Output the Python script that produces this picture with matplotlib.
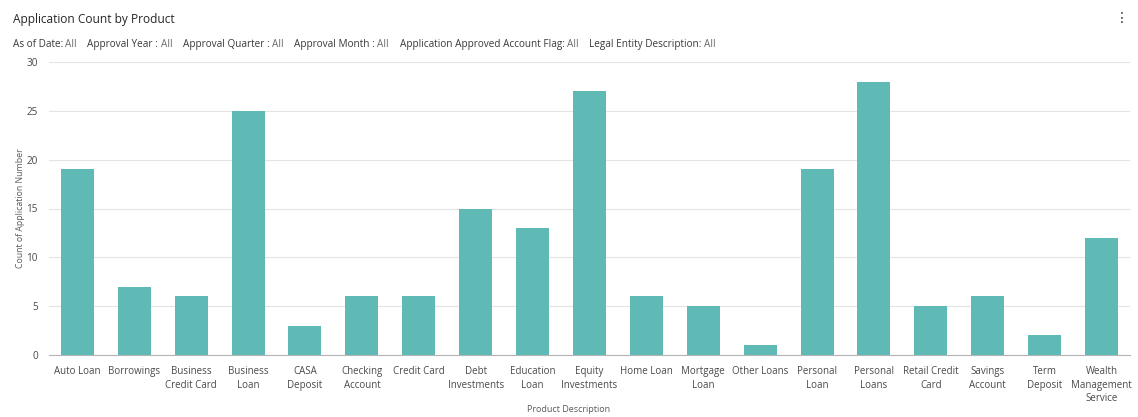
import matplotlib.pyplot as plt

plt.rcParams["font.family"] = ["Open Sans", "DejaVu Sans"]

products = [
    "Auto Loan", "Borrowings", "Business\nCredit Card", "Business\nLoan",
    "CASA\nDeposit", "Checking\nAccount", "Credit Card", "Debt\nInvestments",
    "Education\nLoan", "Equity\nInvestments", "Home Loan", "Mortgage\nLoan",
    "Other Loans", "Personal\nLoan", "Personal\nLoans", "Retail Credit\nCard",
    "Savings\nAccount", "Term\nDeposit", "Wealth\nManagement\nService",
]
counts = [19, 7, 6, 25, 3, 6, 6, 15, 13, 27, 6, 5, 1, 19, 28, 5, 6, 2, 12]

filters = [
    ("As of Date:", "All"),
    ("Approval Year :", "All"),
    ("Approval Quarter :", "All"),
    ("Approval Month :", "All"),
    ("Application Approved Account Flag:", "All"),
    ("Legal Entity Description:", "All"),
]

fig = plt.figure(figsize=(11.38, 4.17), dpi=100)
ax = fig.add_axes([0.043, 0.1487, 0.950, 0.7026])

x = range(len(products))
ax.bar(x, counts, width=0.58, color="#5fb9b5", zorder=3)

ax.set_xlim(-0.5, len(products) - 0.5)
ax.set_ylim(0, 30)
ax.set_yticks(range(0, 31, 5))
ax.set_xticks(list(x))
ax.set_xticklabels(products, fontsize=7, color="#4a4a4a", linespacing=1.3)
ax.tick_params(axis="y", labelsize=7.2, labelcolor="#4a4a4a", length=0, pad=8)
ax.tick_params(axis="x", length=0, pad=8)
ax.grid(axis="y", color="#e4e4e4", linewidth=0.8, zorder=0)
for side in ["top", "right", "left"]:
    ax.spines[side].set_visible(False)
ax.spines["bottom"].set_color("#b5b5b5")

ax.set_ylabel("Count of Application Number", fontsize=6.3, color="#5a5a5a", labelpad=1)
fig.text(0.5, 0.012, "Product Description", fontsize=6.5, color="#5a5a5a", ha="center")

# header: title, filter summary and the menu dots
fig.text(0.011, 0.945, "Application Count by Product", fontsize=8.6, color="#262626")
xpos = 0.011
r = fig.canvas.get_renderer()
for key, val in filters:
    t1 = fig.text(xpos, 0.888, key, fontsize=7.2, color="#3a3a3a")
    w1 = t1.get_window_extent(r).width / fig.bbox.width
    t2 = fig.text(xpos + w1 + 0.002, 0.888, val, fontsize=7.2, color="#6a6a6a")
    w2 = t2.get_window_extent(r).width / fig.bbox.width
    xpos += w1 + 0.002 + w2 + 0.0095
fig.text(0.9855, 0.957, "\u22ee", fontsize=10, color="#333333", ha="center", va="center",
         family="DejaVu Sans")

fig.savefig("out.png", dpi=100)
